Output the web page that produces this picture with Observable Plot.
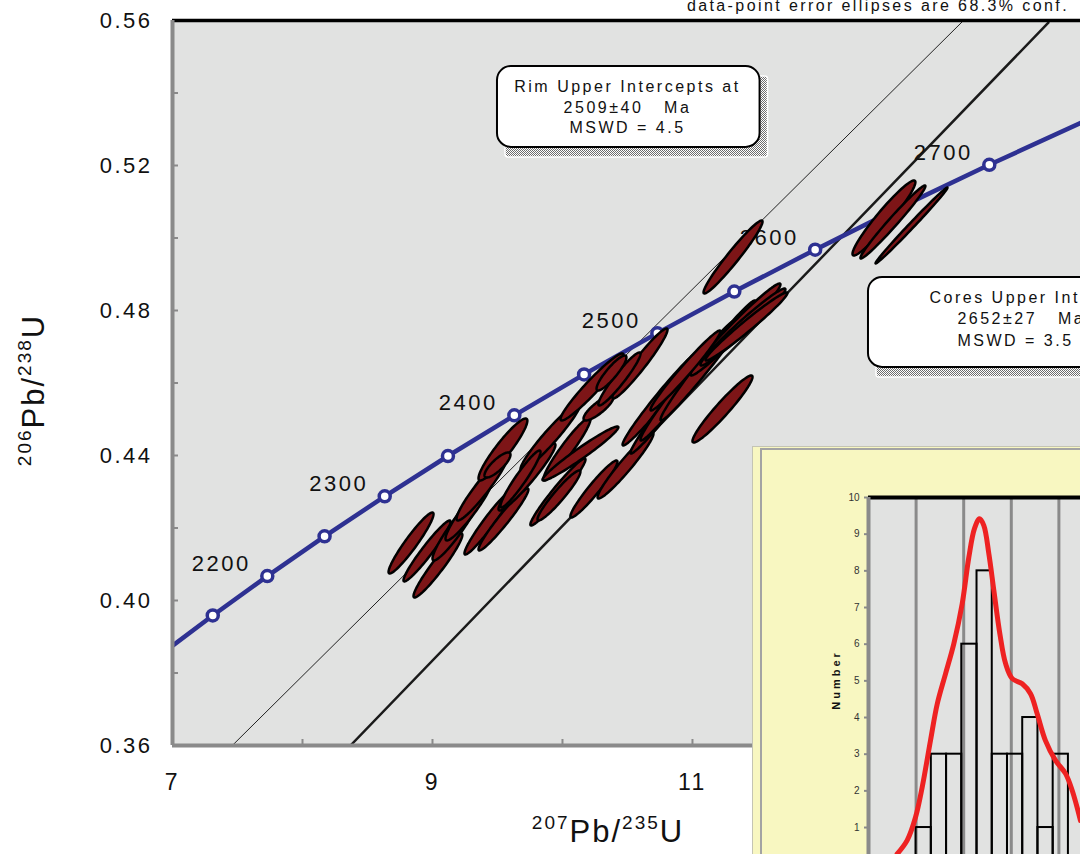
<!DOCTYPE html>
<html><head><meta charset="utf-8">
<script src="https://cdn.jsdelivr.net/npm/d3@7"></script>
<script src="https://cdn.jsdelivr.net/npm/@observablehq/plot@0.6"></script>
<style>
body{margin:0;background:#fff;}
#wrap{position:relative;width:1080px;height:854px;overflow:hidden;font-family:'Liberation Sans',Arial,sans-serif;}
#main text{letter-spacing:2.5px;white-space:pre;}
#inset{position:absolute;left:752px;top:446px;width:328px;height:408px;background:#f8f7c1;border-left:1px solid #c4c4b4;border-top:1px solid #c4c4b4;overflow:hidden;box-sizing:border-box;}
#insetFrame{position:absolute;left:7px;top:1px;right:-10px;bottom:-10px;border-left:2px solid #a3a3a3;border-top:2px solid #a3a3a3;}
#insetPlot{position:absolute;left:-1px;top:-1px;}
</style></head>
<body>
<svg width="0" height="0" style="position:absolute"><defs><pattern id="dither" width="2" height="2" patternUnits="userSpaceOnUse"><rect width="2" height="2" fill="#fff"/><rect width="1" height="1" fill="#6e6e6e"/><rect x="1" y="1" width="1" height="1" fill="#6e6e6e"/></pattern></defs></svg>
<div id="wrap"><div id="main"></div><div id="inset"><div id="insetFrame"></div><div id="insetPlot"></div></div></div>
<script>
// ---------- Concordia (U-Pb) ----------
const concAge = [2100,2150,2200,2250,2300,2350,2400,2450,2500,2550,2600,2650,2700,2750];
const concX = [6.9105,7.3097,7.7292,8.1698,8.6326,9.1189,9.6296,10.1662,10.7297,11.3218,11.9437,12.5970,13.2834,14.0043];
const concY = [0.38509,0.39587,0.40674,0.41769,0.42873,0.43986,0.45107,0.46237,0.47375,0.48523,0.49679,0.50845,0.52019,0.53203];
const markerAges = [2150,2200,2250,2300,2350,2400,2450,2500,2550,2600,2650,2700];
const labelAges = [2200,2300,2400,2500,2600,2700];

// ---------- Discordia lines ----------
const rimLineX = [7.46, 13.085], rimLineY = [0.36, 0.56];
const coreLineX = [8.369, 13.738], coreLineY = [0.36, 0.5594];

// ---------- Data-point error ellipses (x, sx, y, sy, rho) ----------
const ellX  = [8.835,8.958,9.042,9.177,9.281,9.381,9.542,9.500,9.431,9.546,9.727,9.908,10.035,9.677,9.965,10.138,10.227,10.277,10.596,10.242,10.485,9.973,10.762,10.850,10.965,11.119,11.331,11.388,11.415,10.946,11.231,11.312,12.473,12.542,12.685,10.438,10.377];
const ellSX = [0.173,0.181,0.188,0.177,0.181,0.196,0.188,0.100,0.185,0.192,0.219,0.231,0.181,0.154,0.212,0.292,0.242,0.115,0.212,0.181,0.215,0.165,0.300,0.327,0.365,0.365,0.346,0.327,0.315,0.269,0.231,0.227,0.242,0.250,0.277,0.162,0.115];
const ellY  = [0.41586,0.41366,0.40966,0.41973,0.42511,0.43103,0.44166,0.43738,0.42152,0.42235,0.43407,0.44524,0.44180,0.43352,0.42993,0.44055,0.45890,0.45311,0.46538,0.43076,0.43724,0.42897,0.45586,0.45545,0.46069,0.46621,0.47476,0.47545,0.47559,0.46345,0.45283,0.49476,0.50552,0.50442,0.50345,0.46111,0.46276];
const ellSY = [0.00841,0.00841,0.00883,0.00869,0.00855,0.00897,0.00855,0.00345,0.00883,0.00855,0.00924,0.00938,0.00869,0.00786,0.00924,0.00745,0.00924,0.00345,0.00966,0.00786,0.00910,0.00690,0.01310,0.01490,0.01655,0.01655,0.01269,0.01062,0.00938,0.01103,0.00924,0.01007,0.01034,0.01007,0.01048,0.00731,0.00483];
const ellRho = [0.947,0.961,0.954,0.937,0.938,0.945,0.928,0.817,0.962,0.964,0.954,0.957,0.950,0.949,0.969,0.971,0.959,0.840,0.962,0.957,0.961,0.947,0.981,0.985,0.985,0.985,0.980,0.978,0.980,0.980,0.957,0.968,0.955,0.983,0.995,0.949,0.891];

// ---------- Axes ----------
const xTickLabels = [7,9,11,13];
const xTicks = [8,9,10,11,12,13];
const yTickLabels = [0.36,0.40,0.44,0.48,0.52,0.56];
const yTicks = [0.38,0.40,0.42,0.44,0.46,0.48,0.50,0.52,0.54];

// ---------- Annotation boxes ----------
const boxX1 = [9.5, 12.354], boxX2 = [11.52, 15.3];
const boxY1 = [0.525, 0.4643], boxY2 = [0.5473, 0.4891];
const rimText = ["Rim Upper Intercepts at","2509±40   Ma","MSWD = 4.5"];
const rimTextX = [10.50,10.50,10.50];
const rimTextY = [0.54168,0.53589,0.53037];
const coreText = ["Cores Upper Intercepts at","2652±27   Ma","MSWD = 3.5"];
const coreTextX = [12.823,13.038,13.038];
const coreTextY = [0.48348,0.47768,0.47161];

// ---------- Inset histogram ----------
const binStart = [2450,2466,2482,2498,2514,2530,2546,2562,2578,2594];
const binEnd   = [2466,2482,2498,2514,2530,2546,2562,2578,2594,2610];
const binCount = [1,3,3,6,8,3,3,4,1,3];
const kdeAge = [2430.1,2440.6,2449.4,2456.4,2465.1,2472.2,2480.9,2489.6,2498.4,2505.4,2511.3,2516.6,2521.1,2526.4,2531.7,2538.0,2544.0,2551.0,2561.5,2570.2,2577.2,2585.9,2596.4,2607.0,2614.0,2622.7];
const kdeN   = [0.28,0.65,1.28,2.10,3.37,4.37,5.19,6.01,7.10,8.37,9.15,9.42,9.24,8.47,7.46,6.28,5.47,5.06,4.92,4.65,4.10,3.37,2.83,2.47,2.01,1.19];
const histGrid = [2450,2500,2550,2600];
const histTicks = [1,2,3,4,5,6,7,8,9,10];

// ---------- build tables ----------
const conc = concAge.map((a,i)=>({age:a,x:concX[i],y:concY[i]}));
const rimLine = rimLineX.map((x,i)=>({x,y:rimLineY[i]}));
const coreLine = coreLineX.map((x,i)=>({x,y:coreLineY[i]}));
const ellPts = [];
ellX.forEach((cx,i)=>{
  const r = ellRho[i], q = Math.sqrt(1-r*r);
  for(let k=0;k<90;k++){
    const t = k/90*2*Math.PI;
    ellPts.push({id:i, x:cx+ellSX[i]*Math.cos(t), y:ellY[i]+ellSY[i]*(r*Math.cos(t)+q*Math.sin(t))});
  }
});
const boxes = boxX1.map((x1,i)=>({x1,x2:boxX2[i],y1:boxY1[i],y2:boxY2[i]}));
const rimT = rimText.map((t,i)=>({t,x:rimTextX[i],y:rimTextY[i]}));
const coreT = coreText.map((t,i)=>({t,x:coreTextX[i],y:coreTextY[i]}));
const bins = binStart.map((s,i)=>({x1:s,x2:binEnd[i],n:binCount[i]}));
const kde = kdeAge.map((a,i)=>({a,n:kdeN[i]}));

const font = "'Liberation Sans', Arial, sans-serif";
const navy = "#2e3192";

const main = Plot.plot({
  width:1080, height:854, marginLeft:172, marginRight:0, marginTop:20, marginBottom:109,
  x:{domain:[7,13.985]}, y:{domain:[0.36,0.56]},
  style:{fontFamily:font, background:"white", color:"#111", overflow:"visible"},
  marks:[
    Plot.frame({fill:"#e1e2e1", stroke:"none"}),
    Plot.line(rimLine,{x:"x",y:"y",stroke:"#222",strokeWidth:1,clip:true}),
    Plot.line(coreLine,{x:"x",y:"y",stroke:"#1a1a1a",strokeWidth:2.5,clip:true}),
    Plot.line(conc,{x:"x",y:"y",stroke:navy,strokeWidth:4.5,clip:true}),
    Plot.dot(conc.filter(d=>markerAges.includes(d.age)),{x:"x",y:"y",r:5.5,fill:"white",stroke:navy,strokeWidth:3.5}),
    Plot.text(conc.filter(d=>labelAges.includes(d.age)),{x:"x",y:"y",text:d=>String(d.age),dx:-46,dy:-12,fontSize:22,fill:"#111"}),
    Plot.line(ellPts,{x:"x",y:"y",z:"id",fill:"#7d1517",stroke:"#000",strokeWidth:2.5,curve:"linear-closed"}),
    Plot.rect(boxes,{x1:"x1",x2:"x2",y1:"y1",y2:"y2",dx:8,dy:10,fill:"url(#dither)",stroke:"#fff",strokeWidth:1.5,rx:3}),
    Plot.rect(boxes,{x1:"x1",x2:"x2",y1:"y1",y2:"y2",fill:"white",stroke:"#000",strokeWidth:2,rx:14}),
    Plot.text(rimT,{x:"x",y:"y",text:"t",fontSize:16,fill:"#111"}),
    Plot.text(coreT,{x:"x",y:"y",text:"t",fontSize:16,fill:"#111",textAnchor:"start"}),
    Plot.ruleY([0.56],{stroke:"#000",strokeWidth:3.5}),
    Plot.ruleX([7],{stroke:"#8a8a8a",strokeWidth:4}),
    Plot.ruleY([0.36],{stroke:"#8a8a8a",strokeWidth:4}),
    Plot.axisY(yTicks,{tickSize:-6,tickFormat:()=>"",stroke:"#8a8a8a",strokeWidth:2,label:null}),
    Plot.axisX(xTicks,{tickSize:-6,tickFormat:()=>"",stroke:"#8a8a8a",strokeWidth:2,label:null}),
    Plot.axisY(yTickLabels,{tickSize:0,tickPadding:20,tickFormat:d=>d.toFixed(2),fontSize:22,fill:"#111",label:null}),
    Plot.axisX(xTickLabels,{tickSize:0,tickPadding:28,tickFormat:d=>String(d),fontSize:23,fill:"#111",label:null})
  ]
});
document.getElementById("main").appendChild(main);

const svg = d3.select(main);
// caption at top
svg.append("text").attr("x",1069).attr("y",11).attr("text-anchor","end")
  .attr("font-size",16).style("letter-spacing","2.4px").attr("fill","#111")
  .text("data-point error ellipses are 68.3% conf.");
// axis titles with superscripts
function isoTitle(sel, sup1, sup2){
  const t = sel.append("text").attr("text-anchor","middle").attr("fill","#111").style("letter-spacing","2px");
  t.append("tspan").attr("font-size",19).attr("dy",-13).text(sup1);
  t.append("tspan").attr("font-size",31).attr("dy",13).text("Pb/");
  t.append("tspan").attr("font-size",19).attr("dy",-13).text(sup2);
  t.append("tspan").attr("font-size",31).attr("dy",13).text("U");
  return t;
}
isoTitle(svg.append("g").attr("transform","translate(608,842)"),"207","235");
isoTitle(svg.append("g").attr("transform","translate(44,390) rotate(-90)"),"206","238");

// ---------- inset ----------
const inset = Plot.plot({
  width:328, height:460, marginLeft:116, marginRight:0, marginTop:51, marginBottom:42.3,
  x:{domain:[2400,2622.7]}, y:{domain:[0,10]},
  style:{fontFamily:font, background:"transparent", color:"#333", overflow:"visible"},
  marks:[
    Plot.frame({fill:"#e1e2e1", stroke:"none"}),
    Plot.ruleX(histGrid,{stroke:"#8a8a8a",strokeWidth:3}),
    Plot.rectY(bins,{x1:"x1",x2:"x2",y:"n",fill:"none",stroke:"#000",strokeWidth:2}),
    Plot.line(kde,{x:"a",y:"n",stroke:"#ee2222",strokeWidth:5,curve:"catmull-rom"}),
    Plot.ruleY([10],{stroke:"#000",strokeWidth:4}),
    Plot.ruleX([2400],{stroke:"#8a8a8a",strokeWidth:4}),
    Plot.axisY(histTicks,{tickSize:4,tickPadding:5,stroke:"#8a8a8a",strokeWidth:2,fontSize:10,fill:"#333",label:null})
  ]
});
document.getElementById("insetPlot").appendChild(inset);
d3.select(inset).append("text").attr("transform","translate(88,234) rotate(-90)")
  .attr("text-anchor","middle").attr("font-size",11).attr("font-weight","bold")
  .style("letter-spacing","3px").attr("fill","#111").text("Number");
</script>
</body></html>
